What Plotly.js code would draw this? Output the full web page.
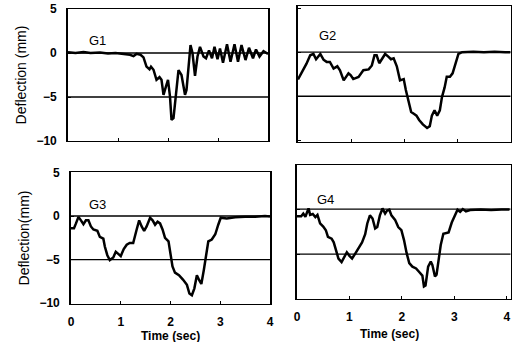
<!DOCTYPE html>
<html>
<head>
<meta charset="utf-8">
<script src="https://cdn.plot.ly/plotly-3.0.1.min.js"></script>
<style>html,body{margin:0;padding:0;background:#fff;}#chart{width:512px;height:342px;}</style>
</head>
<body>
<div id="chart"></div>
<script>
// ---- Data ----
const panelLabels = ["G1", "G2", "G3", "G4"];
const yTickVals = [5, 0, -5, -10];
const xTickVals = [0, 1, 2, 3, 4];
const refLevels = [0, -5];
const xTitle = "Time (sec)";

const g1Time = [0,0.15,0.31,0.45,0.64,0.8,0.95,1.1,1.24,1.31,1.37,1.45,1.51,1.57,1.63,1.66,1.71,1.77,1.83,1.87,1.91,1.96,2.0,2.04,2.07,2.11,2.16,2.21,2.27,2.34,2.37,2.45,2.49,2.54,2.59,2.64,2.71,2.76,2.82,2.88,2.93,2.99,3.04,3.1,3.18,3.25,3.33,3.4,3.47,3.55,3.62,3.7,3.76,3.83,3.91,4.0];
const g1Defl = [0.1,0.0,0.1,0.0,0.05,-0.05,0.0,-0.1,-0.2,-0.35,-0.1,-0.2,-0.5,-1.55,-1.85,-1.55,-1.9,-3.05,-2.75,-3.05,-4.75,-3.8,-3.05,-4.95,-7.6,-7.4,-4.95,-1.95,-2.5,-4.75,-4.2,0.9,0.0,-2.6,-0.4,0.7,-0.4,-0.6,0.3,-0.6,0.7,-0.7,0.5,-1.1,1.0,-1.0,1.0,-1.0,0.9,-0.8,0.6,-0.6,0.4,-0.4,0.2,-0.1];

const g2Time = [0,0.1,0.16,0.23,0.29,0.34,0.42,0.48,0.54,0.6,0.67,0.74,0.79,0.86,0.9,0.95,0.99,1.04,1.14,1.23,1.33,1.39,1.44,1.48,1.53,1.57,1.64,1.7,1.75,1.8,1.86,1.92,1.99,2.03,2.08,2.13,2.18,2.23,2.28,2.35,2.43,2.48,2.52,2.57,2.62,2.67,2.71,2.76,2.8,2.86,2.91,2.96,3.02,3.09,3.3,3.5,3.7,3.9,4.0];
const g2Defl = [-3.1,-2.05,-1.3,-0.35,-0.2,-0.8,-0.2,-0.85,-1.1,-1.1,-1.85,-1.6,-2.05,-3.2,-2.8,-2.4,-2.6,-3.05,-2.8,-2.05,-1.95,-1.5,-0.35,-0.35,-1.25,-0.85,-0.2,-0.5,-0.8,-0.7,-1.6,-3.2,-3.05,-4.3,-5.45,-6.8,-7.0,-7.2,-7.7,-8.2,-8.6,-8.4,-7.2,-6.6,-7.2,-6.6,-5.1,-4.0,-2.8,-2.8,-2.4,-1.3,-0.2,0.0,0.05,0.0,0.05,0.0,0.0];

const g3Time = [0,0.06,0.1,0.15,0.2,0.25,0.3,0.35,0.4,0.45,0.53,0.58,0.65,0.68,0.73,0.78,0.85,0.9,0.95,1.0,1.06,1.12,1.18,1.25,1.32,1.37,1.42,1.47,1.52,1.59,1.64,1.69,1.74,1.79,1.84,1.89,1.96,2.0,2.04,2.09,2.17,2.25,2.33,2.38,2.43,2.48,2.53,2.58,2.62,2.67,2.71,2.76,2.83,2.9,2.96,3.01,3.13,3.3,3.5,3.7,3.9,4.0];
const g3Defl = [-1.4,-1.4,-0.85,-0.1,-0.5,-0.95,-0.5,-0.5,-1.2,-1.55,-1.7,-2.4,-2.6,-3.5,-4.5,-5.05,-4.75,-4.1,-4.35,-4.6,-3.8,-3.3,-3.1,-3.1,-1.55,-0.5,-1.2,-1.7,-1.2,-0.2,-0.5,-1.0,-0.65,-0.85,-1.55,-2.5,-2.9,-4.25,-5.8,-6.5,-6.8,-7.3,-7.9,-8.9,-9.1,-8.3,-6.8,-7.4,-7.8,-6.2,-4.5,-2.9,-2.7,-2.1,-1.0,-0.2,-0.3,-0.15,-0.1,-0.1,0.0,-0.05];

const g4Time = [0,0.08,0.12,0.16,0.22,0.25,0.3,0.35,0.39,0.44,0.5,0.55,0.59,0.66,0.7,0.75,0.79,0.85,0.9,0.95,1.0,1.05,1.11,1.18,1.24,1.3,1.34,1.39,1.44,1.49,1.53,1.58,1.63,1.68,1.72,1.76,1.8,1.87,1.93,1.99,2.04,2.09,2.14,2.2,2.27,2.33,2.39,2.42,2.45,2.5,2.55,2.58,2.63,2.66,2.7,2.74,2.79,2.89,2.95,3.01,3.06,3.11,3.16,3.22,3.3,3.5,3.7,3.9,4.05];
const g4Defl = [-0.8,-0.8,-0.5,-0.85,0.08,-0.65,-0.55,-0.9,-0.65,-1.6,-1.95,-2.35,-3.1,-3.3,-3.7,-4.6,-5.5,-5.9,-5.3,-4.8,-5.2,-5.5,-4.95,-4.2,-3.7,-2.8,-1.6,-0.7,-1.05,-2.15,-2.0,-0.7,0.07,-0.5,-0.15,-0.07,-0.7,-1.2,-2.0,-2.35,-3.45,-4.9,-6.0,-6.4,-6.6,-7.0,-7.4,-8.6,-8.5,-6.4,-5.85,-6.2,-7.5,-7.3,-5.6,-4.0,-2.75,-2.6,-1.5,-0.6,-0.07,-0.3,0.0,-0.25,-0.1,-0.05,-0.1,-0.05,-0.05];

const times = [g1Time, g2Time, g3Time, g4Time];
const defls = [g1Defl, g2Defl, g3Defl, g4Defl];

// ---- Layout geometry (pixels) ----
const W = 512, H = 342;
const boxes = [
  {x0: 68,  x1: 268,   y0: 9,   y1: 141, xr: [0, 4],    yr: [-10, 5]},
  {x0: 298, x1: 510.5, y0: 6,   y1: 142, xr: [0, 4],    yr: [-10.2, 5.25]},
  {x0: 71,  x1: 270,   y0: 172, y1: 304, xr: [0, 4],    yr: [-10.1, 5.05]},
  {x0: 297, x1: 510.5, y0: 165, y1: 299, xr: [0, 4.07], yr: [-10, 4.9]}
];
const labelPos = [[97, 40], [327, 35], [97, 204], [325, 199]];
const xTitlePos = [null, null, [170, 336], [389, 334]];

const FONT = "Liberation Sans, Arial, sans-serif";
const traces = [];
const layout = {
  width: W, height: H,
  margin: {l: 0, r: 0, t: 0, b: 0},
  paper_bgcolor: "#fff", plot_bgcolor: "#fff",
  showlegend: false,
  font: {family: FONT, color: "#000"},
  shapes: [], annotations: []
};

boxes.forEach((b, i) => {
  const n = i + 1;
  const xa = n === 1 ? "x" : "x" + n;
  const ya = n === 1 ? "y" : "y" + n;
  traces.push({
    x: times[i], y: defls[i], xaxis: xa, yaxis: ya,
    type: "scatter", mode: "lines",
    line: {color: "#000", width: 2.5}, hoverinfo: "skip"
  });
  const left = (i % 2 === 0);
  const bottom = (i >= 2);
  layout["xaxis" + (n === 1 ? "" : n)] = {
    domain: [b.x0 / W, b.x1 / W], range: b.xr, anchor: ya,
    showline: true, linecolor: "#000", linewidth: 1, mirror: true,
    showgrid: false, zeroline: false,
    tickvals: xTickVals, ticks: "inside", ticklen: 3, tickcolor: "#000",
    showticklabels: bottom, ticklabelstandoff: 7,
    tickfont: {family: FONT, size: 12, weight: "bold"},
    title: {text: ""}
  };
  layout["yaxis" + (n === 1 ? "" : n)] = {
    domain: [1 - b.y1 / H, 1 - b.y0 / H], range: b.yr, anchor: xa,
    showline: true, linecolor: "#000", linewidth: 1.8, mirror: true,
    showgrid: false, zeroline: false,
    tickvals: yTickVals, ticks: "inside", ticklen: 3, tickcolor: "#000",
    showticklabels: left, ticklabelstandoff: 7,
    tickfont: {family: FONT, size: 12, weight: "bold"},
    title: left ? {text: i === 0 ? "Deflection (mm)" : "Deflection(mm)", font: {family: FONT, size: 14}, standoff: 6} : {text: ""}
  };
  refLevels.forEach(v => {
    layout.shapes.push({
      type: "line", xref: xa + " domain", yref: ya,
      x0: 0, x1: 1, y0: v, y1: v,
      line: {color: "#000", width: 1.3}
    });
  });
  layout.annotations.push({
    text: panelLabels[i], xref: "paper", yref: "paper",
    x: labelPos[i][0] / W, y: 1 - labelPos[i][1] / H,
    xanchor: "center", yanchor: "middle", showarrow: false,
    font: {family: FONT, size: 13, color: "#000"}
  });
  if (bottom) {
    layout.annotations.push({
      text: "<b>" + xTitle + "</b>", xref: "paper", yref: "paper",
      x: xTitlePos[i][0] / W, y: 1 - xTitlePos[i][1] / H,
      xanchor: "center", yanchor: "middle", showarrow: false,
      font: {family: FONT, size: 12, color: "#000"}
    });
  }
});

Plotly.newPlot("chart", traces, layout, {staticPlot: true, displayModeBar: false});
</script>
</body>
</html>
